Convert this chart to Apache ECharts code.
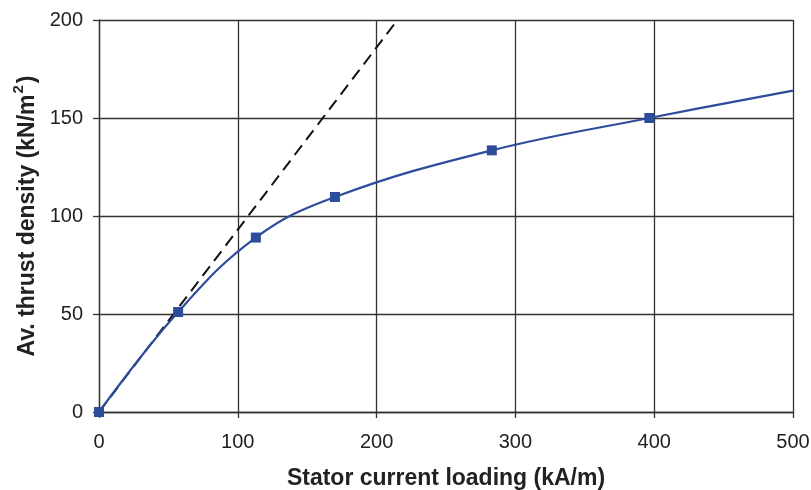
<!DOCTYPE html>
<html>
<head>
    <meta charset="utf-8">
    <script src="https://cdn.jsdelivr.net/npm/echarts@6/dist/echarts.min.js"></script>
</head>
<body style="margin:0">
    <div id="chart" style="width: 811px;height:490px;"></div>
    <script>
        // measured points (kA/m, kN/m^2)
        let loading = [0, 57, 113, 170, 283, 396.5, 500];
        let thrust = [0, 51, 89, 109.7, 133.5, 150, 164];
        // dashed linear line
        let linearX = [0, 215];
        let linearY = [0, 200];

        let xTicks = [0, 100, 200, 300, 400, 500];
        let yTicks = [0, 50, 100, 150, 200];

        let curveData = [];
        for (i = 0; i < loading.length; ++i) {
            if (i == loading.length - 1) {
                curveData.push({ value: [loading[i], thrust[i]], symbol: 'none' });
            } else {
                curveData.push([loading[i], thrust[i]]);
            }
        }
        let linearData = [];
        for (i = 0; i < linearX.length; ++i) {
            linearData.push([linearX[i], linearY[i]]);
        }

        let font = '"Liberation Sans", Arial, sans-serif';
        let titleStyle = { fontFamily: font, fontWeight: 'bold', fontSize: 23, color: '#222' };
        ThrustChart = echarts.init(document.getElementById('chart'));
        thrust_chart = {
            animation: false,
            grid: { left: 99, right: 18, top: 20, bottom: 78, containLabel: false, outerBoundsMode: 'none' },
            xAxis: {
                type: 'value',
                min: xTicks[0],
                max: xTicks[xTicks.length - 1],
                interval: 100,
                name: 'Stator current loading (kA/m)',
                nameLocation: 'middle',
                nameGap: 55,
                nameTextStyle: titleStyle,
                axisLine: { show: true, lineStyle: { color: '#333', width: 1.3 } },
                axisTick: { show: true, length: 6, lineStyle: { color: '#333', width: 1.3 } },
                axisLabel: { fontFamily: font, fontSize: 20, color: '#222', margin: 20 },
                splitLine: { show: true, lineStyle: { color: '#333', width: 1.3 } }
            },
            yAxis: {
                type: 'value',
                min: yTicks[0],
                max: yTicks[yTicks.length - 1],
                interval: 50,
                name: '{t|Av. thrust density (kN/m}{s|2}{t|)}',
                nameLocation: 'middle',
                nameGap: 60,
                nameTextStyle: {
                    fontFamily: font, fontWeight: 'bold', fontSize: 23, color: '#222',
                    rich: {
                        t: { fontFamily: font, fontWeight: 'bold', fontSize: 23, color: '#222', lineHeight: 27, verticalAlign: 'bottom' },
                        s: { fontFamily: font, fontWeight: 'bold', fontSize: 15, color: '#222', lineHeight: 27, verticalAlign: 'top', padding: [0, 2, 8, 1] }
                    }
                },
                axisLine: { show: true, lineStyle: { color: '#333', width: 1.3 } },
                axisTick: { show: true, length: 6, lineStyle: { color: '#333', width: 1.3 } },
                axisLabel: { fontFamily: font, fontSize: 20, color: '#222', margin: 16 },
                splitLine: { show: true, lineStyle: { color: '#333', width: 1.3 } }
            },
            series: [{
                type: 'line',
                data: linearData,
                symbol: 'none',
                lineStyle: { color: '#111', width: 2, type: [12, 7] },
                z: 2
            }, {
                type: 'line',
                data: curveData,
                smooth: 0.4,
                symbol: 'rect',
                symbolSize: 10,
                itemStyle: { color: '#2e4c9c' },
                lineStyle: { color: '#2e4c9c', width: 2.2 },
                z: 3
            }]
        };
        ThrustChart.setOption(thrust_chart);
    </script>
</body>
</html>
